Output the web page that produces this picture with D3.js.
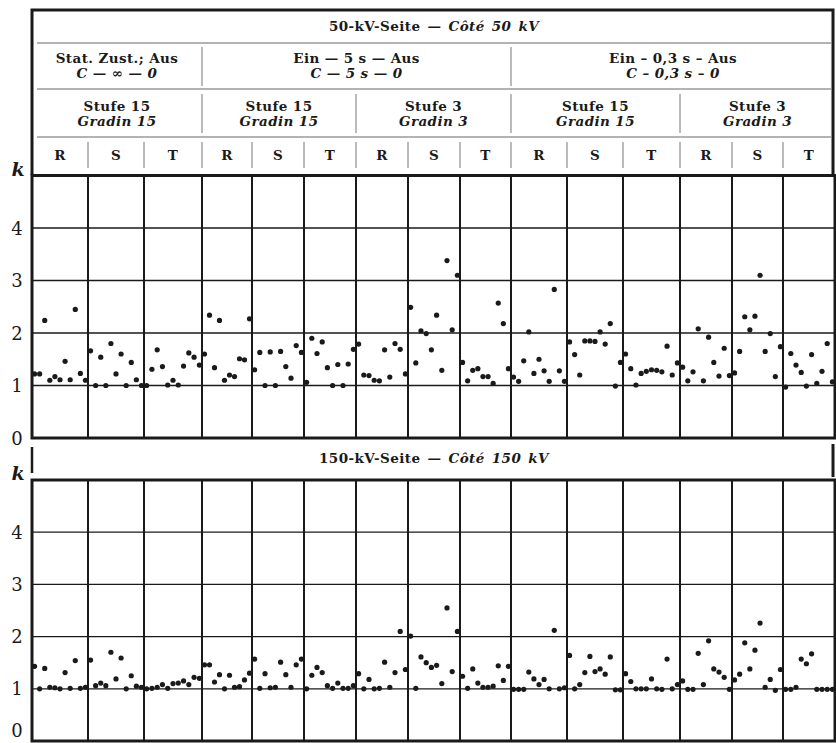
<!DOCTYPE html>
<html>
<head>
<meta charset="utf-8">
<script src="https://cdn.jsdelivr.net/npm/d3@7"></script>
<style>
  body { margin: 0; background: #fff; }
  text { font-family: 'DejaVu Serif', serif; fill: #1a1a1a; }
  .hdr { font-size: 13.5px; font-weight: bold; letter-spacing: 0.4px; }
</style>
</head>
<body>
<div id="plot_area"></div>
<script>
// Set SVG size
const w = 836;
const h = 743;

// Header labels
const titleTop = ['50-kV-Seite — ', 'Côté 50 kV'];
const titleBottom = ['150-kV-Seite — ', 'Côté 150 kV'];
const modeLabels = ['Stat. Zust.; Aus', 'Ein — 5 s — Aus', 'Ein – 0,3 s – Aus'];
const modeLabelsFr = ['C — ∞ — 0', 'C — 5 s — 0', 'C – 0,3 s – 0'];
const modeSpans = [3, 6, 6];
const stepLabels = ['Stufe 15', 'Stufe 15', 'Stufe 3', 'Stufe 15', 'Stufe 3'];
const stepLabelsFr = ['Gradin 15', 'Gradin 15', 'Gradin 3', 'Gradin 15', 'Gradin 3'];
const stepSpans = [3, 3, 3, 3, 3];
const phases = ['R', 'S', 'T', 'R', 'S', 'T', 'R', 'S', 'T', 'R', 'S', 'T', 'R', 'S', 'T'];
const kTicks = [0, 1, 2, 3, 4];

// Measured k values, one list per column (read left to right)
const k50 = [
    [1.22, 1.22, 2.24, 1.10, 1.17, 1.11, 1.46, 1.11, 2.45, 1.23, 1.10],
    [1.66, 1.00, 1.54, 1.00, 1.80, 1.22, 1.60, 1.00, 1.44, 1.11, 1.00],
    [1.00, 1.31, 1.68, 1.36, 1.01, 1.10, 1.01, 1.37, 1.62, 1.54, 1.39],
    [1.60, 2.34, 1.34, 2.24, 1.10, 1.20, 1.17, 1.51, 1.49, 2.27],
    [1.30, 1.63, 1.00, 1.64, 1.00, 1.65, 1.36, 1.14, 1.76, 1.63],
    [1.06, 1.90, 1.61, 1.83, 1.34, 1.00, 1.40, 1.00, 1.41, 1.69],
    [1.79, 1.20, 1.19, 1.10, 1.09, 1.68, 1.16, 1.80, 1.69, 1.22],
    [2.49, 1.43, 2.04, 1.99, 1.68, 2.34, 1.29, 3.38, 2.06, 3.10],
    [1.44, 1.09, 1.29, 1.32, 1.17, 1.17, 1.04, 2.57, 2.18, 1.32],
    [1.16, 1.08, 1.47, 2.02, 1.23, 1.50, 1.28, 1.08, 2.83, 1.28, 1.08],
    [1.83, 1.59, 1.20, 1.85, 1.85, 1.84, 2.02, 1.79, 2.18, 0.99, 1.44],
    [1.60, 1.32, 1.01, 1.23, 1.27, 1.30, 1.29, 1.26, 1.75, 1.20, 1.43],
    [1.35, 1.09, 1.26, 2.08, 1.09, 1.92, 1.44, 1.18, 1.71, 1.19],
    [1.24, 1.65, 2.31, 2.06, 2.32, 3.10, 1.65, 1.99, 1.17, 1.74],
    [0.97, 1.61, 1.39, 1.25, 0.99, 1.59, 1.04, 1.27, 1.80, 1.07]
];

const k150 = [
    [1.43, 1.00, 1.39, 1.03, 1.02, 1.00, 1.31, 1.01, 1.54, 1.01, 1.03],
    [1.55, 1.06, 1.11, 1.06, 1.70, 1.19, 1.59, 1.00, 1.25, 1.05, 1.03],
    [1.00, 1.01, 1.03, 1.08, 1.01, 1.10, 1.11, 1.15, 1.08, 1.22, 1.20],
    [1.46, 1.46, 1.13, 1.27, 1.00, 1.26, 1.03, 1.04, 1.17, 1.30],
    [1.57, 1.01, 1.29, 1.02, 1.03, 1.51, 1.27, 1.03, 1.46, 1.57],
    [1.00, 1.26, 1.41, 1.31, 1.06, 1.01, 1.11, 1.01, 1.01, 1.06],
    [1.29, 1.00, 1.18, 1.00, 1.01, 1.51, 1.03, 1.31, 2.10, 1.37],
    [2.01, 1.01, 1.61, 1.50, 1.41, 1.45, 1.10, 2.55, 1.33, 2.10],
    [1.24, 1.01, 1.38, 1.11, 1.03, 1.03, 1.05, 1.44, 1.16, 1.43],
    [0.99, 0.99, 0.99, 1.32, 1.19, 1.08, 1.18, 1.00, 2.12, 1.00, 1.02],
    [1.64, 1.00, 1.08, 1.31, 1.62, 1.33, 1.38, 1.28, 1.61, 0.98, 0.98],
    [1.29, 1.14, 1.00, 1.00, 1.00, 1.19, 1.00, 0.99, 1.57, 1.00, 1.08],
    [1.15, 0.99, 0.99, 1.68, 1.08, 1.92, 1.38, 1.32, 1.22, 0.99],
    [1.17, 1.28, 1.88, 1.38, 1.74, 2.26, 1.03, 1.18, 0.97, 1.37],
    [0.99, 0.99, 1.03, 1.57, 1.48, 1.67, 0.99, 0.99, 0.99, 0.99]
];

// Column edges in pixels (columns are not all the same width in the print)
const colEdges = [32, 88, 144, 202, 252, 304, 356, 408, 460, 511, 567, 623, 680, 732, 783, 835];
const xScale = d3.scaleLinear().domain(d3.range(16)).range(colEdges);

const yTop = d3.scaleLinear().domain([0, 5]).range([438, 175.5]);
const yBot = d3.scaleLinear().domain([0, 5]).range([741, 480]);

const ink = '#1a1a1a';

const svg = d3.select('#plot_area')
    .append('svg')
    .attr('width', w)
    .attr('height', h);

svg.append('rect').attr('width', w).attr('height', h).attr('fill', '#fff');

// Helper: text with italic parts ("∞" stays upright)
function frenchLine(sel, str) {
    str.split(/(∞)/).forEach(function (part) {
        if (part === '') return;
        sel.append('tspan')
           .style('font-style', part === '∞' ? 'normal' : 'italic')
           .text(part);
    });
}

// ---------- Header of the 50 kV side ----------
// outer box
svg.append('path')
   .attr('d', 'M32,175V10H833V175')
   .attr('fill', 'none')
   .attr('stroke', ink)
   .attr('stroke-width', 3);

// row separators
[43, 89, 137].forEach(function (y) {
    svg.append('line')
       .attr('x1', 37).attr('x2', 831)
       .attr('y1', y).attr('y2', y)
       .attr('stroke', '#666')
       .attr('stroke-width', 1);
});

// title row
const tTop = svg.append('text')
    .attr('class', 'hdr')
    .attr('x', 434).attr('y', 31)
    .attr('text-anchor', 'middle')
    .style('word-spacing', '2px');
tTop.append('tspan').text(titleTop[0]);
tTop.append('tspan').style('font-style', 'italic').text(titleTop[1]);

// divider helper
function divider(x, y0, y1) {
    svg.append('line')
       .attr('x1', x).attr('x2', x)
       .attr('y1', y0).attr('y2', y1)
       .attr('stroke', '#777')
       .attr('stroke-width', 1);
}

// mode row
let c0 = 0;
modeLabels.forEach(function (lab, i) {
    const c1 = c0 + modeSpans[i];
    const cx = (xScale(c0) + xScale(c1)) / 2;
    svg.append('text')
       .attr('class', 'hdr')
       .attr('x', cx).attr('y', 63)
       .attr('text-anchor', 'middle')
       .text(lab);
    frenchLine(svg.append('text')
       .attr('class', 'hdr')
       .attr('x', cx).attr('y', 78)
       .attr('text-anchor', 'middle'), modeLabelsFr[i]);
    if (c0 > 0) divider(xScale(c0), 47, 86);
    c0 = c1;
});

// step row
c0 = 0;
stepLabels.forEach(function (lab, i) {
    const c1 = c0 + stepSpans[i];
    const cx = (xScale(c0) + xScale(c1)) / 2;
    svg.append('text')
       .attr('class', 'hdr')
       .attr('x', cx).attr('y', 111)
       .attr('text-anchor', 'middle')
       .text(lab);
    svg.append('text')
       .attr('class', 'hdr')
       .attr('x', cx).attr('y', 126)
       .attr('text-anchor', 'middle')
       .style('font-style', 'italic')
       .text(stepLabelsFr[i]);
    if (c0 > 0) divider(xScale(c0), 94, 133);
    c0 = c1;
});

// phase row
phases.forEach(function (p, i) {
    svg.append('text')
       .attr('class', 'hdr')
       .attr('x', (xScale(i) + xScale(i + 1)) / 2)
       .attr('y', 160)
       .attr('text-anchor', 'middle')
       .text(p);
    if (i > 0) divider(xScale(i), 142, 168);
});

// ---------- Header of the 150 kV side ----------
svg.append('line')
   .attr('x1', 32).attr('x2', 32).attr('y1', 447).attr('y2', 473)
   .attr('stroke', ink).attr('stroke-width', 2.5);
svg.append('line')
   .attr('x1', 833).attr('x2', 833).attr('y1', 444).attr('y2', 477)
   .attr('stroke', ink).attr('stroke-width', 3);

const tBot = svg.append('text')
    .attr('class', 'hdr')
    .attr('x', 434).attr('y', 463)
    .attr('text-anchor', 'middle')
    .style('word-spacing', '2px');
tBot.append('tspan').text(titleBottom[0]);
tBot.append('tspan').style('font-style', 'italic').text(titleBottom[1]);

// ---------- Panels ----------
function drawPanel(yScale, data, kY) {
    const g = svg.append('g');
    const x0 = xScale(0), x1 = xScale(15);

    // horizontal grid
    g.selectAll('.hgrid')
     .data([1, 2, 3, 4])
     .enter()
     .append('line')
     .attr('x1', x0).attr('x2', x1)
     .attr('y1', (d) => yScale(d)).attr('y2', (d) => yScale(d))
     .attr('stroke', ink)
     .attr('stroke-width', 1.3);

    // column lines
    g.selectAll('.vgrid')
     .data(d3.range(1, 15))
     .enter()
     .append('line')
     .attr('x1', (d) => xScale(d)).attr('x2', (d) => xScale(d))
     .attr('y1', yScale(5)).attr('y2', yScale(0))
     .attr('stroke', ink)
     .attr('stroke-width', 2);

    // frame
    g.append('rect')
     .attr('x', x0).attr('y', yScale(5))
     .attr('width', x1 - x0).attr('height', yScale(0) - yScale(5))
     .attr('fill', 'none')
     .attr('stroke', ink)
     .attr('stroke-width', 3);

    // points
    const pts = [];
    data.forEach(function (col, c) {
        col.forEach(function (k, i) {
            pts.push([c + (i + 0.5) / col.length, k]);
        });
    });
    g.selectAll('circle')
     .data(pts)
     .enter()
     .append('circle')
     .attr('cx', (d) => xScale(d[0]))
     .attr('cy', (d) => yScale(d[1]))
     .attr('r', 2.6)
     .attr('fill', ink);

    // y tick labels
    g.selectAll('.ticklab')
     .data(kTicks)
     .enter()
     .append('text')
     .attr('x', 17)
     .attr('y', (d) => Math.min(yScale(d) + 6.5, h - 6))
     .attr('text-anchor', 'middle')
     .style('font-size', '18px')
     .text((d) => d);

    // k label
    g.append('text')
     .attr('x', 18).attr('y', kY)
     .attr('text-anchor', 'middle')
     .style('font-size', '19px')
     .style('font-weight', 'bold')
     .style('font-style', 'italic')
     .text('k');
}

drawPanel(yTop, k50, 176);
drawPanel(yBot, k150, 480);
</script>
</body>
</html>
